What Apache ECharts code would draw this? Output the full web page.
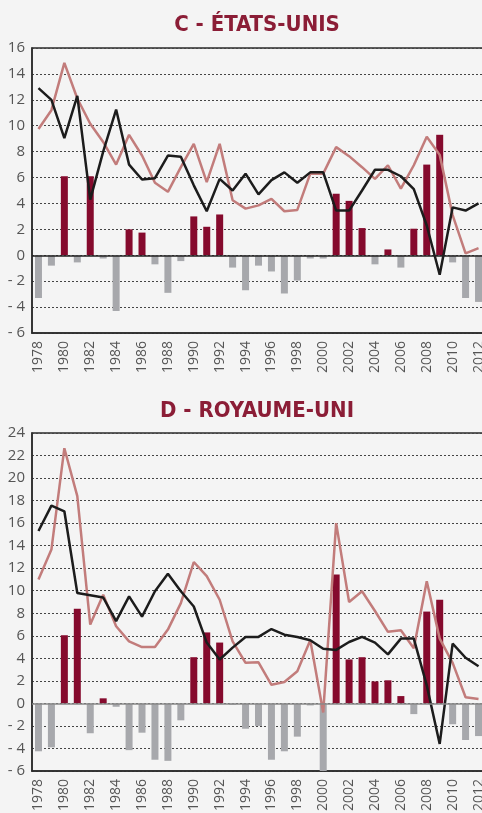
<!DOCTYPE html>
<html>
<head>
<meta charset="utf-8">
<script src="https://cdn.jsdelivr.net/npm/echarts@6/dist/echarts.min.js"></script>
<style>
  html, body { margin: 0; padding: 0; background: #f4f4f4; }
  #chart { width: 482px; height: 813px; }
</style>
</head>
<body>
<div id="chart"></div>
<script>
// années 1978 - 2012
const years = []
for (let y = 1978; y <= 2012; y++) years.push(String(y))

// C - États-Unis
const usBars = [-3.3, -0.8, 6.1, -0.55, 6.1, -0.25, -4.3, 2.0, 1.75, -0.7,
  -2.9, -0.45, 3.0, 2.2, 3.15, -0.95, -2.7, -0.8, -1.25, -2.95,
  -1.95, -0.25, -0.25, 4.75, 4.2, 2.1, -0.7, 0.45, -0.95, 2.05,
  7.0, 9.3, -0.55, -3.3, -3.6]
const usBlack = [12.9, 12.0, 9.05, 12.3, 4.3, 8.0, 11.25, 7.0, 5.85, 5.95,
  7.7, 7.6, 5.4, 3.4, 5.9, 5.0, 6.3, 4.7, 5.8, 6.4,
  5.6, 6.4, 6.4, 3.45, 3.45, 5.0, 6.6, 6.6, 6.1, 5.1,
  2.3, -1.5, 3.7, 3.45, 4.0]
const usPink = [9.75, 11.2, 14.85, 12.1, 10.15, 8.75, 7.0, 9.3, 7.7, 5.6,
  4.9, 6.8, 8.6, 5.65, 8.6, 4.25, 3.6, 3.85, 4.35, 3.4,
  3.5, 6.3, 6.3, 8.35, 7.65, 6.8, 5.9, 6.95, 5.15, 6.95,
  9.15, 7.75, 3.1, 0.15, 0.55]

// D - Royaume-Uni
const ukBars = [-4.25, -3.9, 6.05, 8.4, -2.65, 0.45, -0.3, -4.15, -2.6, -5.0,
  -5.1, -1.5, 4.1, 6.3, 5.4, -0.12, -2.25, -2.0, -5.0, -4.25,
  -2.95, -0.18, -6.0, 11.45, 3.9, 4.1, 1.95, 2.05, 0.65, -0.95,
  8.15, 9.2, -1.85, -3.25, -2.9]
const ukBlack = [15.3, 17.55, 17.05, 9.8, 9.6, 9.4, 7.3, 9.5, 7.7, 9.95,
  11.5, 9.95, 8.6, 5.4, 3.9, 4.95, 5.9, 5.9, 6.6, 6.1,
  5.9, 5.6, 4.85, 4.75, 5.45, 5.9, 5.4, 4.35, 5.75, 5.75,
  1.6, -3.6, 5.3, 4.05, 3.3]
const ukPink = [11.0, 13.65, 22.65, 18.4, 7.0, 9.65, 6.85, 5.5, 5.0, 5.0,
  6.55, 8.9, 12.55, 11.3, 9.2, 5.5, 3.6, 3.65, 1.65, 1.9,
  2.85, 5.6, -0.8, 16.0, 9.0, 9.95, 8.2, 6.35, 6.5, 4.9,
  10.85, 5.75, 3.6, 0.55, 0.4]

const RED = '#850a2d'
const GREY = '#a7a8ac'
const BLACK = '#1c1c1c'
const PINK = '#c27c7b'

const chart = echarts.init(document.getElementById('chart'))

function yAxis(i, min, max) {
  return {
    type: 'value', gridIndex: i, min: min, max: max, interval: 2,
    axisLine: { show: true, lineStyle: { color: '#2a2a2a', width: 1.5 } },
    axisTick: { show: false },
    axisLabel: {
      color: '#555', fontSize: 15, fontFamily: 'Open Sans', margin: 7,
      formatter: v => v < 0 ? '- ' + Math.abs(v) : String(v)
    },
    splitLine: { show: true, lineStyle: { color: '#444', type: [2, 2], width: 1 } }
  }
}

function xAxis(i) {
  return {
    type: 'category', gridIndex: i, data: years, boundaryGap: true,
    axisLine: { show: true, onZero: false, lineStyle: { color: '#2a2a2a', width: 1.5 } },
    axisTick: { show: false },
    axisLabel: { rotate: 90, interval: 1, color: '#555', fontSize: 14, fontFamily: 'Open Sans', margin: 8 }
  }
}

function barSeries(i, vals, zeroColor) {
  return {
    type: 'bar', xAxisIndex: i, yAxisIndex: i, barWidth: 7,
    data: vals.map(v => ({ value: v, itemStyle: { color: v >= 0 ? RED : GREY } })),
    markLine: {
      silent: true, symbol: 'none', label: { show: false },
      lineStyle: { color: zeroColor, type: 'solid', width: 1.5 },
      data: [{ yAxis: 0 }]
    },
    z: 2
  }
}

function lineSeries(i, vals, color) {
  return {
    type: 'line', xAxisIndex: i, yAxisIndex: i, data: vals, symbol: 'none',
    lineStyle: { color: color, width: 2.5 }, z: 3
  }
}

chart.setOption({
  backgroundColor: '#f4f4f4',
  animation: false,
  title: [
    {
      text: 'C - ÉTATS-UNIS', left: 252, top: 9, textAlign: 'center',
      textStyle: { color: '#8b1d36', fontSize: 22, fontWeight: 'bold', fontFamily: 'DejaVu Sans Condensed' }
    },
    {
      text: 'D - ROYAUME-UNI', left: 252, top: 395, textAlign: 'center',
      textStyle: { color: '#8b1d36', fontSize: 22, fontWeight: 'bold', fontFamily: 'DejaVu Sans Condensed' }
    }
  ],
  grid: [
    { left: 32, top: 48, width: 453, height: 285, outerBoundsMode: 'none', show: true, borderColor: '#2a2a2a', borderWidth: 1.5 },
    { left: 32, top: 433, width: 453, height: 338, outerBoundsMode: 'none', show: true, borderColor: '#2a2a2a', borderWidth: 1.5 }
  ],
  xAxis: [xAxis(0), xAxis(1)],
  yAxis: [yAxis(0, -6, 16), yAxis(1, -6, 24)],
  series: [
    barSeries(0, usBars, '#222'),
    lineSeries(0, usPink, PINK),
    lineSeries(0, usBlack, BLACK),
    barSeries(1, ukBars, '#888'),
    lineSeries(1, ukPink, PINK),
    lineSeries(1, ukBlack, BLACK)
  ]
})
</script>
</body>
</html>
